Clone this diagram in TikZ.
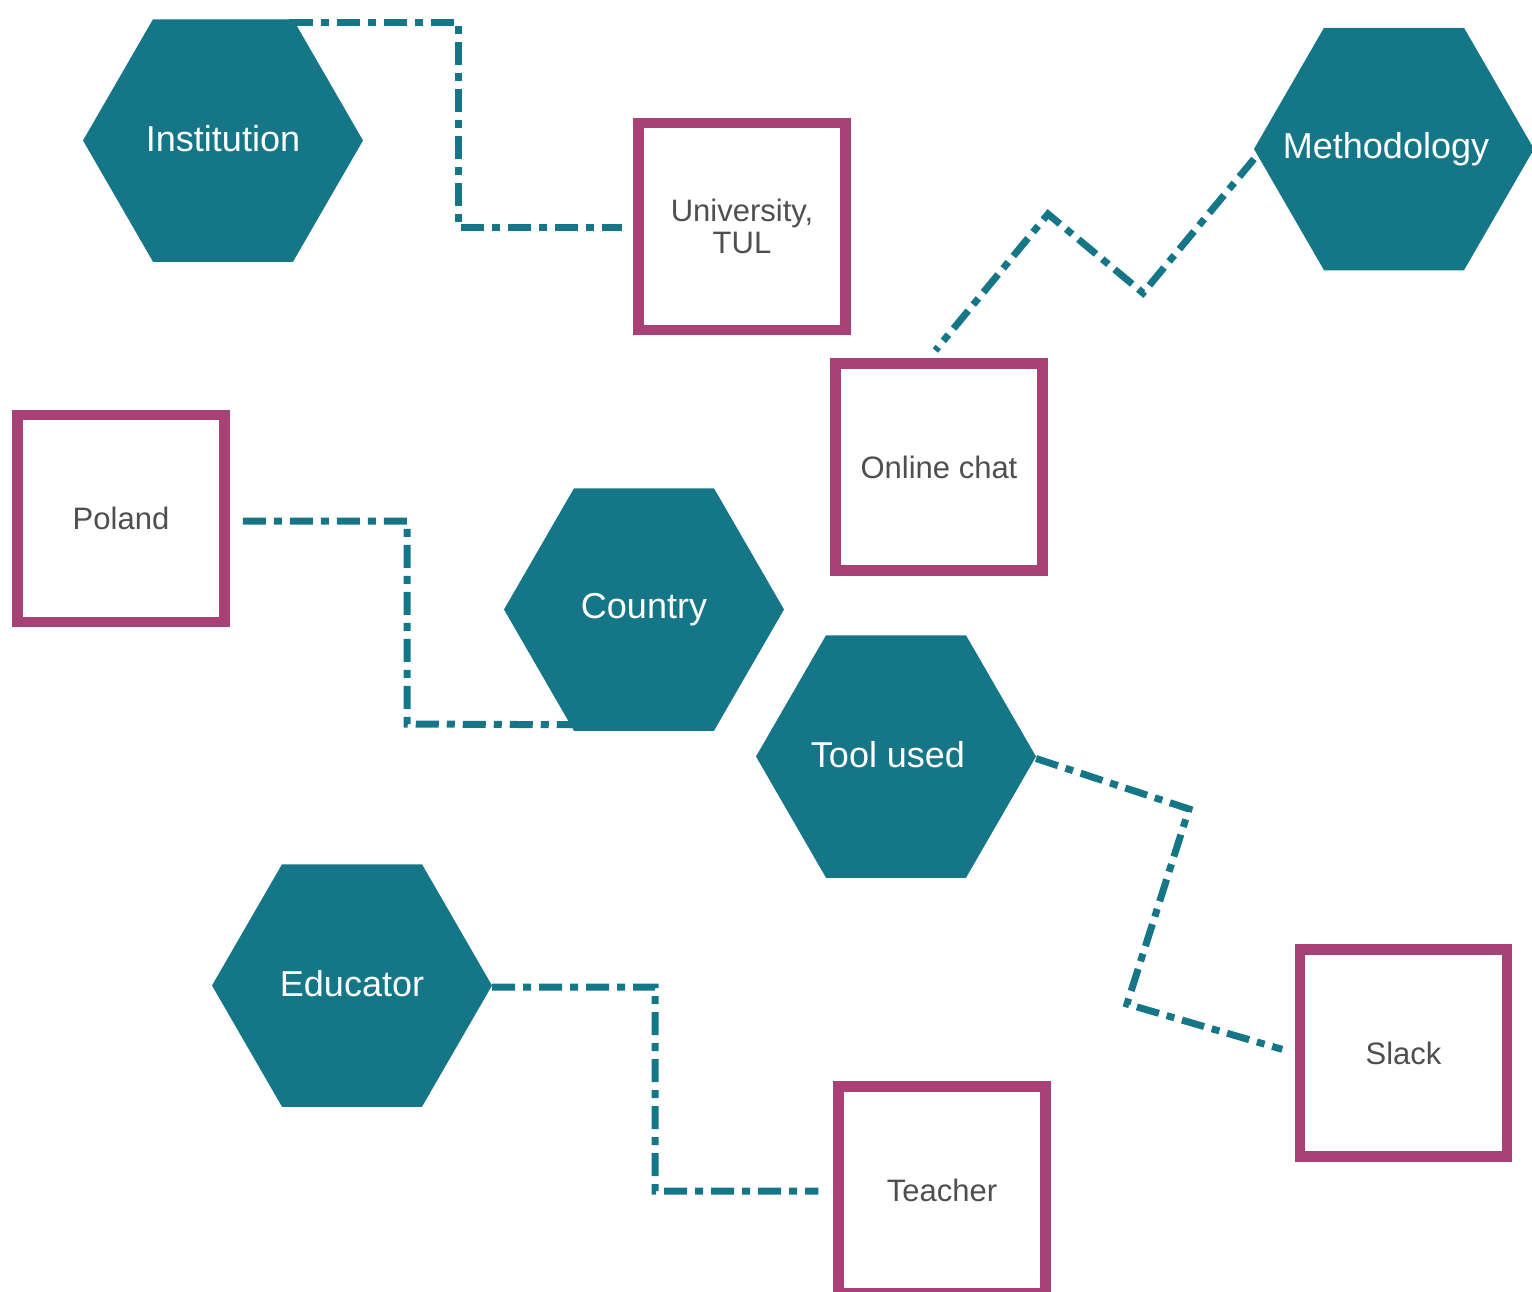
\documentclass[tikz,border=0pt]{standalone}
\usepackage{fontspec}
\setmainfont{Liberation Sans}
\usetikzlibrary{shapes.geometric}
\definecolor{teal}{HTML}{157687}
\definecolor{plum}{HTML}{A84176}
\definecolor{txtgray}{HTML}{4F4F4F}
\newcommand{\hextext}[2][0pt]{\raisebox{2pt}{\makebox[0pt][c]{\hspace*{#1}#2}}}
\tikzset{
  hexnode/.style={regular polygon, regular polygon sides=6, minimum size=140pt,
    inner sep=0pt, outer sep=0pt, fill=teal, draw=none, text=white,
    font=\fontsize{18}{20}\selectfont},
  boxnode/.style={rectangle, draw=plum, line width=5.25pt, fill=white,
    minimum size=103.5pt, inner sep=0pt, text=txtgray, align=center,
    font=\fontsize{15.5}{16}\selectfont},
  link/.style={draw=teal, line width=3.5pt,
    dash pattern=on 11.5pt off 4pt on 4pt off 4pt}
}
\begin{document}
\begin{tikzpicture}[x=0.5pt,y=-0.5pt]
\useasboundingbox (0,0) rectangle (1532,1291);
\begin{scope}
\clip (0,0) rectangle (1532,1291);
% hexagons
\node[hexnode] (inst) at (223,140.5) {\hextext{Institution}};
\node[hexnode] (meth) at (1394,149) {\hextext[-8pt]{Methodology}};
\node[hexnode] (country) at (644,609.5) {\hextext{Country}};
\node[hexnode] (tool) at (896,756.5) {\hextext[-8pt]{Tool used}};
\node[hexnode] (educ) at (352,985.5) {\hextext{Educator}};
% boxes
\node[boxnode] (univ) at (742,226.5) {University,\\TUL};
\node[boxnode] (chat) at (939,467) {Online chat};
\node[boxnode] (poland) at (121,518.5) {Poland};
\node[boxnode] (slack) at (1403.5,1053) {Slack};
\node[boxnode] (teacher) at (942,1190) {Teacher};
% bend points
\coordinate (a1) at (458,22);
\coordinate (a2) at (458,227);
\coordinate (b1) at (1143,293);
\coordinate (b2) at (1048,214);
\coordinate (c1) at (407,521);
\coordinate (c2) at (407,724);
\coordinate (d1) at (1189,809);
\coordinate (d2) at (1127,1004);
\coordinate (e1) at (655,987);
\coordinate (e2) at (655,1191);
% connectors
\draw[link, shorten >=5.5pt] (inst.60) |- (a1) -- (a2) -- (univ.west |- a2);
\draw[link, shorten >=5pt] ([yshift=-5pt]meth.west) -- (b1) -- (b2) -- ([xshift=-5pt]chat.north);
\draw[link, shorten <=6.5pt] (poland.east |- c1) -- (c1) -- (c2) -- ([yshift=3pt]country.240);
\draw[link, shorten >=6.5pt] ([yshift=-1pt]tool.east) -- (d1) -- (d2) -- (slack.west);
\draw[link, shorten >=7.5pt] ([yshift=-0.75pt]educ.east) -- (e1) -- (e2) -- (teacher.west |- e2);
\end{scope}
\end{tikzpicture}
\end{document}
